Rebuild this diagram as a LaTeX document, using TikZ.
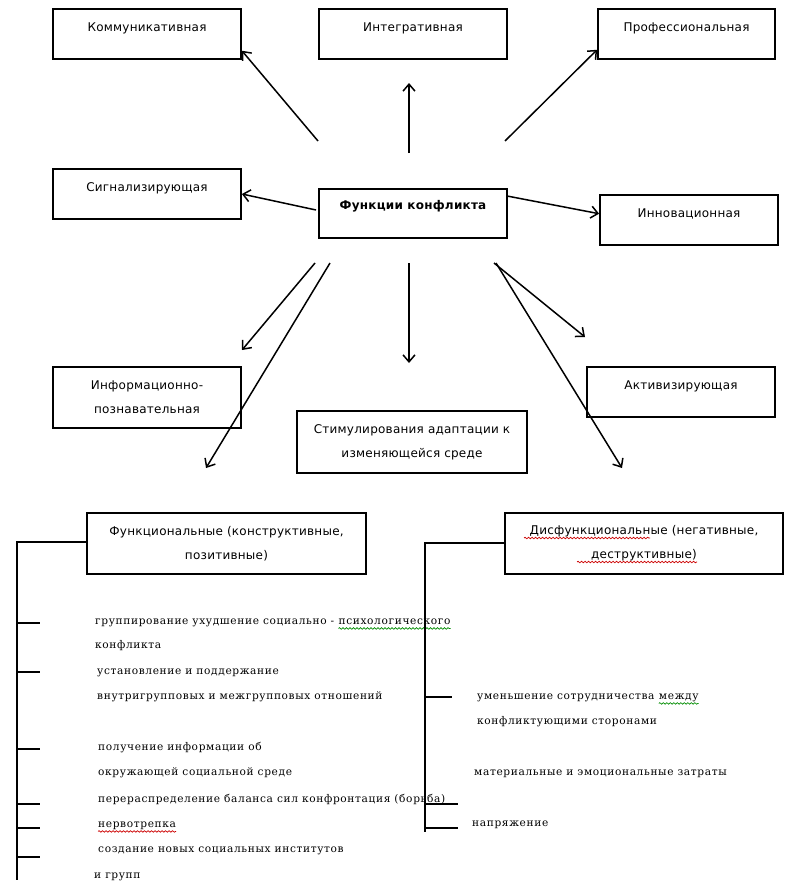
\documentclass[tikz,border=0pt]{standalone}
\usepackage{fontspec}
\setmainfont{DejaVu Sans}
\newfontfamily\boitefont{DejaVu Sans}[LetterSpace=2]
\newfontfamily\listefont{DejaVu Serif}[LetterSpace=6]
\usetikzlibrary{arrows.meta, positioning, decorations.pathmorphing}

\begin{document}
\begin{tikzpicture}[x=1pt,y=-1pt,
  boite/.style={draw, line width=1.8pt, inner sep=0pt, align=center,
    font=\boitefont\fontsize{12}{24}\selectfont},
  haut/.style={text height=22pt, text depth=28pt},
  fleche/.style={line width=1.5pt, -{Straight Barb[length=7pt,width=12pt]}},
  trait/.style={line width=1.6pt},
  liste/.style={anchor=west, inner sep=0pt, text height=8pt, text depth=2.5pt,
    font=\listefont\fontsize{10.6}{12}\selectfont},
  onde/.style={line width=0.7pt, decorate,
    decoration={snake, amplitude=0.8pt, segment length=3.5pt}}]

\useasboundingbox (0,0) rectangle (790,894);

%% ================= rangée du haut =========================================
\node[boite, haut, minimum width=188pt] (comm)  at (147,34)   {Коммуникативная};
\node[boite, haut, minimum width=188pt] (integ) at (413,34)   {Интегративная};
\node[boite, haut, minimum width=177pt] (prof)  at (686.5,34) {Профессиональная};

%% ================= centre =================================================
\node[boite, haut, minimum width=188pt] (signal) at (147,194) {Сигнализирующая};
\node[boite, minimum width=188pt, text height=20pt, text depth=29pt,
  font=\boitefont\bfseries\fontsize{12}{12}\selectfont] (fonct) at (413,213.5) {Функции конфликта};
\node[boite, haut, minimum width=178pt] (innov) at (689,220)  {Инновационная};

%% ================= rangée du bas ==========================================
\node[boite, minimum width=188pt, minimum height=61pt] (info) at (147,397.5)
  {Информационно-\\познавательная};
\node[boite, minimum width=230pt, minimum height=62pt] (stim) at (412,442)
  {Стимулирования адаптации к\\изменяющейся среде};
\node[boite, haut, minimum width=188pt] (activ) at (681,392) {Активизирующая};

%% ================= flèches ================================================
\coordinate (d1) at (318,141);  \coordinate (d2) at (409,153);
\coordinate (d3) at (505,141);  \coordinate (d4) at (316,210);
\coordinate (d5) at (507,196);  \coordinate (d6) at (409,263);
\coordinate (d7) at (315,263);  \coordinate (d8) at (330,263);
\coordinate (d9) at (494,263);  \coordinate (d10) at (496,263);
\coordinate (f2) at (409,83);   \coordinate (f6) at (409,363);
\coordinate (f7) at (242,350);  \coordinate (f8) at (206,468);
\coordinate (f9) at (585,337);  \coordinate (f10) at (622,468);
\draw[fleche] (d1) -- (comm.-10);
\draw[fleche] (d2) -- (f2);
\draw[fleche] (d3) -- (prof.190);
\draw[fleche] (d4) -- (signal.east);
\draw[fleche] (d5) -- (innov.176);
\draw[fleche] (d6) -- (f6);
\draw[fleche] (d7) -- (f7);
\draw[fleche] (d8) -- (f8);
\draw[fleche] (d9) -- (f9);
\draw[fleche] (d10) -- (f10);

%% ================= fonctions positives ====================================
\node[boite, minimum width=279pt, minimum height=61pt] (posit) at (226.5,543.5)
  {Функциональные (конструктивные,\\позитивные)};
\draw[trait] (posit.west |- 0,542) -- (17,542) -- (17,880);
\foreach \y in {623,672,749,804,828,857}
  \draw[trait] (17,\y) -- (40,\y);
\node[liste] (p1)  at (95,622) {группирование ухудшение социально -};
\node[liste, right=4pt of p1] (p1b) {психологического};
\node[liste] (p2)  at (95,646) {конфликта};
\node[liste] (p3)  at (97,672) {установление и поддержание};
\node[liste] (p4)  at (97,697) {внутригрупповых и межгрупповых отношений};
\node[liste] (p5)  at (98,748) {получение информации об};
\node[liste] (p6)  at (98,773) {окружающей социальной среде};
\node[liste] (p7)  at (98,800) {перераспределение баланса сил конфронтация (борьба)};
\node[liste] (p8)  at (98,825) {нервотрепка};
\node[liste] (p9)  at (98,850) {создание новых социальных институтов};
\node[liste] (p10) at (94,876) {и групп};
\draw[onde, green!55!black] ([yshift=-1pt]p1b.south west) -- ([yshift=-1pt]p1b.south east);
\draw[onde, red!80!black] ([yshift=-1pt]p8.south west) -- ([yshift=-1pt]p8.south east);

%% ================= fonctions négatives ====================================
\node[boite, minimum width=278pt, minimum height=61pt] (dysf) at (644,543.5)
  {Дисфункциональные (негативные,\\деструктивные)};
\draw[onde, red!80!black] (524,538) -- (650,538);
\draw[onde, red!80!black] (577,562) -- (697,562);
\draw[trait] (dysf.west |- 0,543) -- (425,543) -- (425,832);
\draw[trait] (425,697) -- (452,697);
\foreach \y in {804,828}
  \draw[trait] (425,\y) -- (458,\y);
\node[liste] (n1) at (477,697) {уменьшение сотрудничества};
\node[liste, right=4pt of n1] (n1b) {между};
\node[liste] (n2) at (477,722) {конфликтующими сторонами};
\node[liste] (n3) at (474,773) {материальные и эмоциональные затраты};
\node[liste] (n4) at (472,824) {напряжение};
\draw[onde, green!55!black] ([yshift=-1pt]n1b.south west) -- ([yshift=-1pt]n1b.south east);
\end{tikzpicture}
\end{document}
